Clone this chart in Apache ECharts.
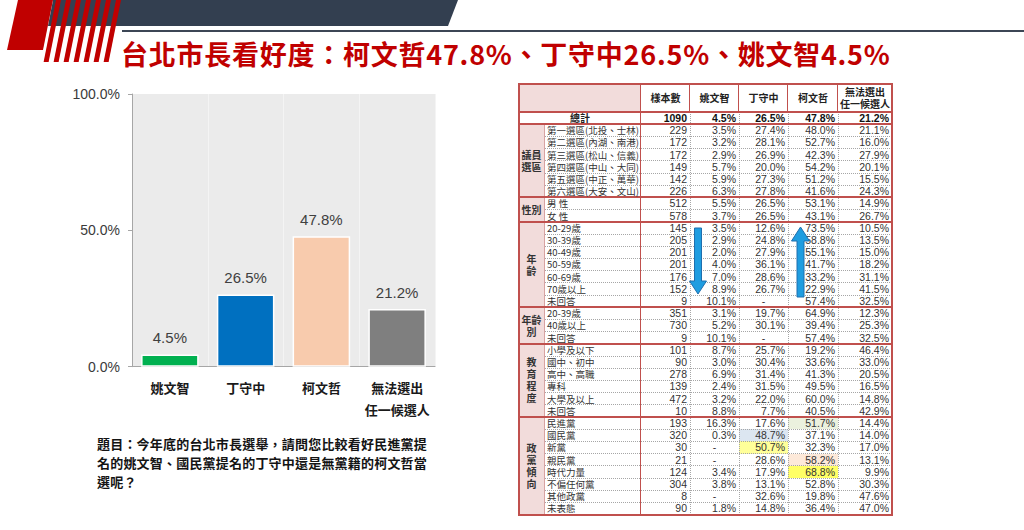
<!DOCTYPE html>
<html><head><meta charset="utf-8">
<script src="https://cdn.jsdelivr.net/npm/echarts@6/dist/echarts.min.js"></script>
<style>
body{margin:0;background:#fff;}
#page{position:relative;width:1024px;height:530px;overflow:hidden;font-family:'Noto Sans CJK TC','Noto Sans',sans-serif;background:#fff;}
#chart{position:absolute;left:0;top:0;width:1024px;height:530px;}
.abs{position:absolute;white-space:nowrap;}
#table div{position:absolute;box-sizing:border-box;}
</style></head><body><div id="page">
<svg id="deco" width="1024" height="70" style="position:absolute;left:0;top:0"></svg>
<div id="chart"></div>
<div id="title" class="abs" style="left:121px;top:38px;font-size:27px;line-height:32px;font-weight:bold;color:#c00000;letter-spacing:0.75px;"></div>
<div id="question" class="abs" style="left:97px;top:434px;font-size:13px;line-height:19px;font-weight:bold;color:#141414;white-space:pre;letter-spacing:0.2px;"></div>
<div id="table" class="abs" style="left:0;top:0;width:1024px;height:530px;"></div>
<svg id="arrows" width="1024" height="530" style="position:absolute;left:0;top:0"></svg>
</div>
<script>
// ---------- data ----------
const titleText = '台北市長看好度：柯文哲47.8%、丁守中26.5%、姚文智4.5%';
const questionText = '題目：今年底的台北市長選舉，請問您比較看好民進黨提\n名的姚文智、國民黨提名的丁守中還是無黨籍的柯文哲當\n選呢？';
const categories = ['姚文智', '丁守中', '柯文哲', '無法選出\n任一候選人'];
const values = [4.5, 26.5, 47.8, 21.2];
const yTicks = [0, 50, 100];

const tableHeaders = ['樣本數', '姚文智', '丁守中', '柯文哲', '無法選出\n任一候選人'];
const totalLabel = '總計';
const totalRow = [1090, 4.5, 26.5, 47.8, 21.2];
const groupNames = ['議員\n選區', '性別', '年\n齡', '年齡\n別', '教\n育\n程\n度', '政\n黨\n傾\n向'];
const districtRows = [
  ['第一選區(北投、士林)', 229, 3.5, 27.4, 48.0, 21.1],
  ['第二選區(內湖、南港)', 172, 3.2, 28.1, 52.7, 16.0],
  ['第三選區(松山、信義)', 172, 2.9, 26.9, 42.3, 27.9],
  ['第四選區(中山、大同)', 149, 5.7, 20.0, 54.2, 20.1],
  ['第五選區(中正、萬華)', 142, 5.9, 27.3, 51.2, 15.5],
  ['第六選區(大安、文山)', 226, 6.3, 27.8, 41.6, 24.3]
];
const genderRows = [
  ['男 性', 512, 5.5, 26.5, 53.1, 14.9],
  ['女 性', 578, 3.7, 26.5, 43.1, 26.7]
];
const ageRows = [
  ['20-29歲', 145, 3.5, 12.6, 73.5, 10.5],
  ['30-39歲', 205, 2.9, 24.8, 58.8, 13.5],
  ['40-49歲', 201, 2.0, 27.9, 55.1, 15.0],
  ['50-59歲', 201, 4.0, 36.1, 41.7, 18.2],
  ['60-69歲', 176, 7.0, 28.6, 33.2, 31.1],
  ['70歲以上', 152, 8.9, 26.7, 22.9, 41.5],
  ['未回答', 9, 10.1, null, 57.4, 32.5]
];
const age2Rows = [
  ['20-39歲', 351, 3.1, 19.7, 64.9, 12.3],
  ['40歲以上', 730, 5.2, 30.1, 39.4, 25.3],
  ['未回答', 9, 10.1, null, 57.4, 32.5]
];
const eduRows = [
  ['小學及以下', 101, 8.7, 25.7, 19.2, 46.4],
  ['國中、初中', 90, 3.0, 30.4, 33.6, 33.0],
  ['高中、高職', 278, 6.9, 31.4, 41.3, 20.5],
  ['專科', 139, 2.4, 31.5, 49.5, 16.5],
  ['大學及以上', 472, 3.2, 22.0, 60.0, 14.8],
  ['未回答', 10, 8.8, 7.7, 40.5, 42.9]
];
const partyRows = [
  ['民進黨', 193, 16.3, 17.6, 51.7, 14.4],
  ['國民黨', 320, 0.3, 48.7, 37.1, 14.0],
  ['新黨', 30, null, 50.7, 32.3, 17.0],
  ['親民黨', 21, null, 28.6, 58.2, 13.1],
  ['時代力量', 124, 3.4, 17.9, 68.8, 9.9],
  ['不偏任何黨', 304, 3.8, 13.1, 52.8, 30.3],
  ['其他政黨', 8, null, 32.6, 19.8, 47.6],
  ['未表態', 90, 1.8, 14.8, 36.4, 47.0]
];
const groupRows = [districtRows, genderRows, ageRows, age2Rows, eduRows, partyRows];
// highlighted cells: [group, row, column(1..5)]
const highlights = [[5, 0, 4], [5, 1, 3], [5, 2, 3], [5, 3, 4], [5, 4, 4]];

// ---------- styles ----------
const barColors = ['#00b050', '#0070c0', '#f8cbad', '#7f7f7f'];
const highlightColors = ['#ebf1de', '#dce6f1', '#ffff99', '#fde9d9', '#ffff66'];
const RED = '#c0504d', PINK = '#f2dcdb', DOT = '#a6a6a6';

document.getElementById('title').textContent = titleText;
document.getElementById('question').textContent = questionText;

// ---------- header decoration ----------
(function(){
  const svg = document.getElementById('deco');
  let s = '';
  s += '<polygon points="53,0 458,0 448,26 48,26" fill="#333f50"/>';
  s += '<line x1="122" y1="31" x2="1024" y2="31" stroke="#3c4655" stroke-width="2"/>';
  s += '<polygon points="18,0 53,0 43,50 7,50" fill="#c00000"/>';
  for (let i = 0; i < 7; i++) {
    const tx = 56 + i * 10;
    s += `<polygon points="${tx},0 ${tx+5},0 ${tx+5-12.4},62 ${tx-12.4},62" fill="#c00000"/>`;
  }
  svg.innerHTML = s;
})();

// ---------- bar chart ----------
const chart = echarts.init(document.getElementById('chart'), null, {renderer: 'svg'});
chart.setOption({
  animation: false,
  grid: {left: 132, top: 94, width: 303, height: 272.7, show: true, backgroundColor: '#ebebeb', borderWidth: 0},
  xAxis: {
    type: 'category', data: categories,
    axisLine: {show: true, lineStyle: {color: '#a6a6a6', width: 1}},
    axisTick: {show: false},
    splitLine: {show: true, lineStyle: {color: '#f4f4f4', width: 1}},
    axisLabel: {fontSize: 13, fontWeight: 'bold', color: '#1a1a1a', lineHeight: 22, margin: 10,
      fontFamily: 'Noto Sans CJK TC', interval: 0}
  },
  yAxis: {
    type: 'value', min: yTicks[0], max: yTicks[yTicks.length - 1], interval: yTicks[1] - yTicks[0],
    axisLine: {show: true, lineStyle: {color: '#a6a6a6'}},
    axisTick: {show: true, length: 4, lineStyle: {color: '#a6a6a6'}},
    splitLine: {show: false},
    axisLabel: {formatter: v => v.toFixed(1) + '%', fontSize: 14, color: '#3a3a3a', margin: 12,
      fontFamily: 'Liberation Sans'}
  },
  series: [{
    type: 'bar', barWidth: '76%',
    data: values.map((v, i) => ({value: v, itemStyle: {color: barColors[i]}})),
    itemStyle: {borderColor: '#fff', borderWidth: 1.5},
    label: {show: true, position: 'top', distance: 9, formatter: p => p.value.toFixed(1) + '%',
      fontSize: 15, color: '#404040', fontFamily: 'Liberation Sans'}
  }]
});

// ---------- table ----------
(function(){
  const T = document.getElementById('table');
  const colX = [519, 544, 641, 690, 739, 788, 838, 892];
  const headTop = 84, headBot = 112, rowH = 12.2;
  const rowTop = i => headBot + i * rowH;
  const nRows = 1 + groupRows.reduce((a, g) => a + g.length, 0);
  const tableBot = rowTop(nRows);
  function box(x, y, w, h, css) {
    const d = document.createElement('div');
    d.style.left = x + 'px'; d.style.top = y + 'px'; d.style.width = w + 'px'; d.style.height = h + 'px';
    d.style.cssText += css; T.appendChild(d); return d;
  }
  function hline(x1, x2, y, w, st, c) { box(x1, y - w / 2, x2 - x1, 0, `border-top:${w}px ${st} ${c};`); }
  function vline(x, y1, y2, w, st, c) { box(x - w / 2, y1, 0, y2 - y1, `border-left:${w}px ${st} ${c};`); }
  function text(x, y, w, h, t, css) {
    const d = box(x, y, w, h, css + `line-height:${h}px;white-space:pre;overflow:visible;`);
    d.textContent = t; return d;
  }
  const fmt = v => v === null ? '-' : v.toFixed(1) + '%';
  // backgrounds
  box(colX[0], headTop, colX[2] - colX[0], headBot - headTop, `background:${PINK};`);
  let r = 1; const groupStart = [];
  groupRows.forEach((g, gi) => {
    groupStart.push(r);
    box(colX[0], rowTop(r), colX[1] - colX[0], g.length * rowH, `background:${PINK};`);
    r += g.length;
  });
  highlights.forEach(([g, ri, c], k) => {
    const rr = groupStart[g] + ri;
    box(colX[c + 1], rowTop(rr), colX[c + 2] - colX[c + 1], rowH, `background:${highlightColors[k]};`);
  });
  // dotted lines
  for (let i = 1; i < nRows; i++) {
    if (groupStart.indexOf(i) < 0) hline(colX[1], colX[7], rowTop(i), 1, 'dotted', DOT);
  }
  for (let c = 3; c <= 6; c++) vline(colX[c], headBot, tableBot, 1, 'dotted', DOT);
  vline(colX[1], rowTop(1), tableBot, 1, 'solid', '#d8a3a2');
  // solid red lines
  for (let c = 3; c <= 6; c++) vline(colX[c], headTop, headBot, 1.5, 'solid', RED);
  vline(colX[2], headTop, tableBot, 1.5, 'solid', RED);
  hline(colX[0], colX[7], headBot, 2, 'solid', RED);
  groupStart.forEach(s => hline(colX[0], colX[7], rowTop(s), 2, 'solid', RED));
  box(colX[0] - 1, headTop - 1, colX[7] - colX[0] + 2, tableBot - headTop + 2, `border:2px solid ${RED};`);
  // header texts
  tableHeaders.forEach((h, i) => {
    const lines = h.split('\n').length;
    const lh = lines > 1 ? 12 : headBot - headTop;
    const top = headTop + (headBot - headTop - lh * lines) / 2;
    const d = text(colX[i + 2], top, colX[i + 3] - colX[i + 2], lh, h,
      'text-align:center;font-size:10px;font-weight:bold;color:#222;');
    d.style.height = (lh * lines) + 'px';
  });
  // total row
  const numCss = "font-family:'Liberation Sans',Arial,sans-serif;font-size:10.5px;color:#333;";
  text(colX[0], rowTop(0), colX[2] - colX[0], rowH, totalLabel, 'text-align:center;font-size:10px;font-weight:bold;color:#222;');
  totalRow.forEach((v, i) => {
    text(colX[i + 2], rowTop(0), colX[i + 3] - colX[i + 2] - 3, rowH, i === 0 ? String(v) : fmt(v),
      numCss + 'text-align:right;font-weight:bold;color:#111;');
  });
  // group rows
  groupRows.forEach((g, gi) => {
    const s = groupStart[gi];
    const lines = groupNames[gi].split('\n').length;
    const lh = 12;
    const top = rowTop(s) + (g.length * rowH - lines * lh) / 2;
    const d = text(colX[0], top, colX[1] - colX[0], lh, groupNames[gi], 'text-align:center;font-size:10px;font-weight:bold;color:#333;');
    d.style.height = (lines * lh) + 'px';
    g.forEach((row, ri) => {
      const y = rowTop(s + ri);
      text(colX[1] + 3, y, colX[2] - colX[1] - 3, rowH, row[0], 'text-align:left;font-size:9.5px;color:#333;');
      for (let c = 1; c <= 5; c++) {
        const v = row[c];
        const x = colX[c + 1], w = colX[c + 2] - colX[c + 1];
        if (v === null) text(x, y, w, rowH, '-', numCss + 'text-align:center;');
        else text(x, y, w - 3, rowH, c === 1 ? String(v) : fmt(v), numCss + 'text-align:right;');
      }
    });
  });
})();

// ---------- arrows ----------
(function(){
  const svg = document.getElementById('arrows');
  const st = 'fill="#1f9de0" stroke="#1f6fae" stroke-width="1"';
  svg.innerHTML =
    `<polygon ${st} points="694.5,228 701.5,228 701.5,281 706.5,281 698,294 689.5,281 694.5,281"/>` +
    `<polygon ${st} points="797,297 804,297 804,241 809.5,241 800.5,227 791.5,241 797,241"/>`;
})();
</script>
</body></html>
